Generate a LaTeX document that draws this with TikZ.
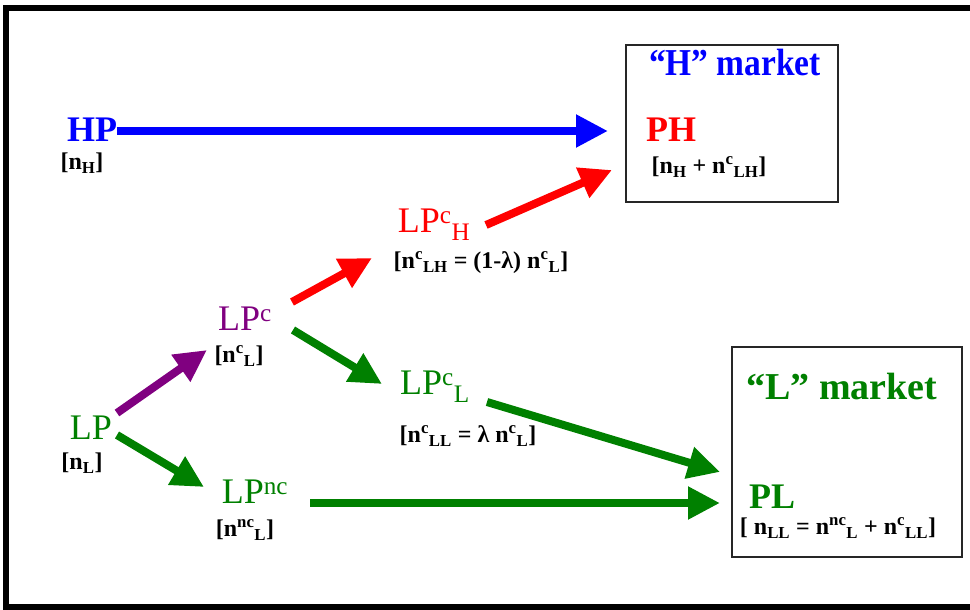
\documentclass[tikz,border=0pt]{standalone}
\usepackage{fontspec}
\setmainfont{Liberation Serif}
\usetikzlibrary{arrows.meta}
\definecolor{cblue}{RGB}{0,0,255}
\definecolor{cred}{RGB}{255,0,0}
\definecolor{cpurple}{RGB}{128,0,128}
\definecolor{cgreen}{RGB}{0,128,0}
\newcommand{\up}[1]{\textsuperscript{#1}}
\newcommand{\dn}[1]{\textsubscript{#1}}
\tikzset{
  big/.style={inner sep=0pt, font=\fontsize{36}{40}\selectfont},
  bigb/.style={inner sep=0pt, font=\fontsize{36}{40}\selectfont\bfseries},
  mkt/.style={inner sep=0pt, font=\fontsize{38}{42}\selectfont\bfseries},
  lab/.style={inner sep=0pt, font=\fontsize{24}{28}\selectfont\bfseries},
  arr/.style={line width=8pt, -{Triangle[length=32pt,width=31pt]}},
  mbox/.style={draw=black!85, line width=1.6pt},
}
\begin{document}
\begin{tikzpicture}[x=1pt,y=-1pt]
\useasboundingbox (0,0) rectangle (970,610);
% outer frame
\draw[line width=6pt] (970,8) -- (6,8) -- (6,607) -- (970,607);
% market boxes
\draw[mbox] (626,45) rectangle (838,202);
\draw[mbox] (732,347) rectangle (962,557);
% nodes
\node[mkt, text=cblue, xscale=0.88] (hm) at (735,63) {“H” market};
\node[mkt, text=cgreen] (lm) at (842,387) {“L” market};
\node[bigb, text=cblue] (HP) at (92,130) {HP};
\node[lab] (nH) at (82,163) {[n\dn{H}]};
\node[bigb, text=cred] (PH) at (671,130) {PH};
\node[lab] (nPH) at (709,167) {[n\dn{H} + n\up{c}\dn{LH}]};
\node[big, text=cred] (LPcH) at (434,225) {LP\up{c}\dn{H}};
\node[lab] (nLPcH) at (481,263) {[n\up{c}\dn{LH} = (1-λ) n\up{c}\dn{L}]};
\node[big, text=cpurple] (LPc) at (245,319) {LP\up{c}};
\node[lab] (nLPc) at (239,356) {[n\up{c}\dn{L}]};
\node[big, text=cgreen] (LPcL) at (435,387) {LP\up{c}\dn{L}};
\node[lab] (nLPcL) at (468,436) {[n\up{c}\dn{LL} = λ n\up{c}\dn{L}]};
\node[big, text=cgreen] (LP) at (91,428) {LP};
\node[lab] (nLP) at (82,463) {[n\dn{L}]};
\node[big, text=cgreen] (LPnc) at (255,492) {LP\up{nc}};
\node[lab] (nLPnc) at (245,530) {[n\up{nc}\dn{L}]};
\node[bigb, text=cgreen] (PL) at (772,497) {PL};
\node[lab] (nPL) at (838,528) {[ n\dn{LL} = n\up{nc}\dn{L} + n\up{c}\dn{LL}]};
% arrow end points
\coordinate (a1s) at (117,131); \coordinate (a1e) at (608,131);
\coordinate (a2s) at (486,225); \coordinate (a2e) at (612,170);
\coordinate (a3s) at (292,302); \coordinate (a3e) at (372,258);
\coordinate (a4s) at (117,413); \coordinate (a4e) at (207,350);
\coordinate (a5s) at (293,330); \coordinate (a5e) at (382,384);
\coordinate (a6s) at (487,402); \coordinate (a6e) at (720,472);
\coordinate (a7s) at (117,435); \coordinate (a7e) at (204,487);
\coordinate (a8s) at (310,503); \coordinate (a8e) at (720,503);
% arrows
\draw[arr, cblue] (a1s) -- (a1e);
\draw[arr, cred] (a2s) -- (a2e);
\draw[arr, cred] (a3s) -- (a3e);
\draw[arr, cpurple] (a4s) -- (a4e);
\draw[arr, cgreen] (a5s) -- (a5e);
\draw[arr, cgreen] (a6s) -- (a6e);
\draw[arr, cgreen] (a7s) -- (a7e);
\draw[arr, cgreen] (a8s) -- (a8e);
\end{tikzpicture}
\end{document}
